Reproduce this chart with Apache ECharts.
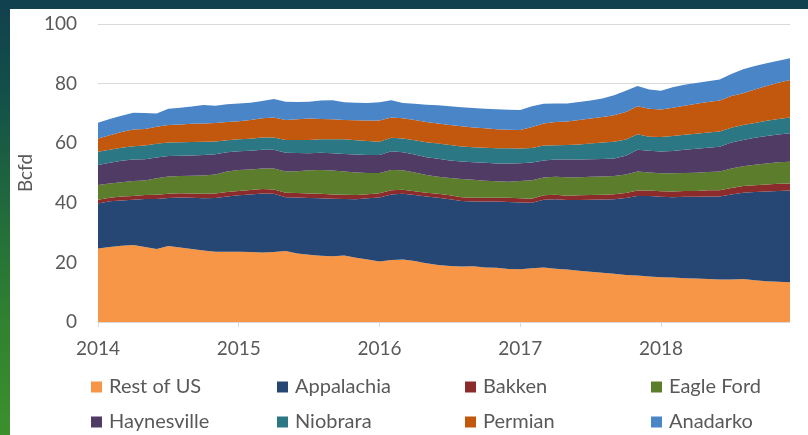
<!DOCTYPE html>
<html>
<head>
<meta charset="utf-8">
<script src="https://cdn.jsdelivr.net/npm/echarts@6/dist/echarts.min.js"></script>
<style>
  html, body { margin: 0; padding: 0; }
  body { width: 808px; height: 435px; position: relative; overflow: hidden;
    background: linear-gradient(to bottom, #11404e 0%, #135049 22%, #236c3b 50%, #318230 75%, #3d8f2d 100%); }
  #panel { position: absolute; left: 10px; top: 9px; right: 0; bottom: 0; background: #ffffff; }
  #chart { position: absolute; left: 0; top: 0; width: 808px; height: 435px; }
</style>
</head>
<body>
<div id="panel"></div>
<div id="chart"></div>
<script>
const months = [
  '2014-01','2014-02','2014-03','2014-04','2014-05','2014-06','2014-07','2014-08','2014-09','2014-10','2014-11','2014-12',
  '2015-01','2015-02','2015-03','2015-04','2015-05','2015-06','2015-07','2015-08','2015-09','2015-10','2015-11','2015-12',
  '2016-01','2016-02','2016-03','2016-04','2016-05','2016-06','2016-07','2016-08','2016-09','2016-10','2016-11','2016-12',
  '2017-01','2017-02','2017-03','2017-04','2017-05','2017-06','2017-07','2017-08','2017-09','2017-10','2017-11','2017-12',
  '2018-01','2018-02','2018-03','2018-04','2018-05','2018-06','2018-07','2018-08','2018-09','2018-10','2018-11','2018-12'
];
const yTicks = [0, 20, 40, 60, 80, 100];

const restOfUS = [24.7,25.2,25.6,25.8,25.2,24.5,25.5,25.0,24.5,24.0,23.6,23.6,
  23.6,23.5,23.3,23.5,23.8,23.0,22.6,22.2,22.1,22.3,21.6,21.0,
  20.3,20.8,21.0,20.5,19.7,19.1,18.8,18.6,18.7,18.3,18.2,17.8,
  17.7,18.0,18.3,17.9,17.6,17.2,16.9,16.5,16.2,15.8,15.6,15.3,
  15.0,14.9,14.7,14.6,14.4,14.3,14.3,14.4,14.0,13.7,13.5,13.3];
const appalachia = [15.1,15.3,15.2,15.2,16.1,16.8,16.1,16.8,17.2,17.5,18.0,18.5,
  18.9,19.3,19.8,19.5,18.1,18.8,19.0,19.3,19.3,19.0,19.6,20.5,
  21.5,22.0,22.0,22.1,22.4,22.6,22.4,22.0,21.7,22.1,22.2,22.5,
  22.4,22.0,22.7,23.3,23.3,23.7,24.1,24.6,25.0,25.8,26.7,27.0,
  27.0,27.0,27.3,27.4,27.7,27.8,28.5,29.0,29.6,30.1,30.5,30.8];
const bakken = [1.2,1.2,1.3,1.3,1.3,1.4,1.4,1.4,1.4,1.5,1.5,1.5,
  1.5,1.5,1.5,1.5,1.5,1.5,1.5,1.5,1.4,1.4,1.4,1.4,
  1.4,1.4,1.4,1.3,1.3,1.3,1.3,1.3,1.3,1.3,1.3,1.4,
  1.4,1.4,1.5,1.5,1.5,1.6,1.6,1.6,1.7,1.7,1.8,1.8,
  1.9,1.9,2.0,2.0,2.1,2.1,2.2,2.2,2.3,2.3,2.4,2.4];
const eagleFord = [5.0,4.8,4.8,5.0,4.9,5.5,5.8,5.8,6.0,6.2,6.4,6.9,
  7.0,6.9,6.9,7.0,7.1,7.3,7.8,8.0,8.0,7.8,7.6,7.1,
  6.8,6.8,6.5,6.3,5.9,5.7,5.8,6.1,6.0,5.7,5.5,5.4,
  5.8,6.2,6.0,6.0,6.2,6.1,6.1,6.1,6.1,6.2,6.4,6.1,
  6.0,6.1,6.0,6.1,6.1,6.3,6.5,6.7,6.9,7.1,7.2,7.3];
const haynesville = [6.7,6.9,7.2,7.2,7.1,7.0,6.9,6.8,6.8,6.8,6.8,6.5,
  6.3,6.3,6.3,6.3,6.3,6.1,5.7,5.8,5.8,5.9,6.0,6.0,
  6.0,6.3,6.1,6.0,6.0,6.1,5.9,5.9,5.9,6.0,6.0,6.1,
  6.0,5.9,5.7,5.8,5.9,5.9,5.9,5.9,5.9,6.3,7.3,7.3,
  7.3,7.5,7.8,8.0,8.2,8.3,8.7,8.8,9.0,9.2,9.3,9.5];
const niobrara = [4.4,4.4,4.4,4.5,4.6,4.6,4.5,4.5,4.5,4.5,4.3,4.0,
  4.0,4.0,4.1,4.1,4.3,4.4,4.5,4.5,4.7,4.9,4.8,4.7,
  4.5,4.5,4.6,4.8,5.0,5.1,5.2,5.0,5.0,5.1,5.1,5.1,
  4.9,4.9,5.0,4.8,4.9,5.1,5.3,5.5,5.6,5.4,5.2,4.7,
  4.9,5.0,5.0,5.1,5.1,5.1,5.0,5.0,5.0,5.1,5.2,5.3];
const permian = [4.5,4.9,5.3,5.6,5.6,5.7,5.9,6.0,6.1,6.1,6.2,6.1,
  6.1,6.3,6.5,6.7,6.7,6.9,7.2,6.8,6.7,6.5,6.7,6.9,
  7.1,6.8,6.8,6.8,6.8,6.7,6.7,6.8,6.7,6.5,6.4,6.2,
  6.2,7.0,7.4,7.8,7.9,8.2,8.4,8.6,8.9,9.3,9.4,9.4,
  9.2,9.5,9.8,10.0,10.2,10.4,10.6,10.7,11.2,11.7,12.2,12.6];
const anadarko = [5.3,5.4,5.4,5.6,5.3,4.5,5.5,5.6,5.8,6.2,5.8,6.0,
  5.9,5.8,5.8,6.2,6.1,5.8,5.6,6.2,6.4,5.9,5.9,5.9,
  6.1,5.8,5.1,5.4,5.8,6.1,6.3,6.4,6.5,6.6,6.7,6.7,
  6.7,7.0,6.6,6.2,6.0,6.0,6.0,6.2,6.7,7.1,6.8,6.4,
  6.3,6.9,7.0,7.0,7.0,7.1,7.4,8.0,7.9,7.6,7.4,7.3];

const seriesNames = ['Rest of US','Appalachia','Bakken','Eagle Ford','Haynesville','Niobrara','Permian','Anadarko'];
const seriesData = [restOfUS, appalachia, bakken, eagleFord, haynesville, niobrara, permian, anadarko];
const colors = ['#f79646','#264773','#8c2b2b','#5c7d2b','#4f3b64','#2c7784','#c2570e','#4a85c8'];

const textColor = '#595959';
const fontFam = 'Lato, "Open Sans", sans-serif';

const legendPos = [
  [91, 377], [277, 377], [465, 377], [651, 377],
  [91, 412], [277, 412], [465, 412], [651, 412]
];

const chart = echarts.init(document.getElementById('chart'), null, { renderer: 'canvas' });
chart.setOption({
  backgroundColor: 'transparent',
  animation: false,
  color: colors,
  grid: { left: 98, right: 18, top: 24, bottom: 113, containLabel: false },
  legend: seriesNames.map((n, i) => ({
    data: [n],
    left: legendPos[i][0],
    top: legendPos[i][1],
    padding: 0,
    icon: 'rect',
    itemWidth: 11,
    itemHeight: 11,
    selectedMode: false,
    textStyle: { color: textColor, fontSize: 20, fontFamily: fontFam, lineHeight: 20, padding: [0, 0, 0, 2] }
  })),
  xAxis: {
    type: 'category',
    data: months,
    boundaryGap: false,
    axisLine: { show: true, lineStyle: { color: '#d9d9d9', width: 1 } },
    axisTick: { show: true, interval: 11, length: 5, lineStyle: { color: '#d9d9d9' } },
    axisLabel: {
      interval: 11, margin: 17, color: textColor, fontSize: 19, fontFamily: fontFam,
      formatter: v => v.slice(0, 4)
    },
    splitLine: { show: false }
  },
  yAxis: {
    type: 'value',
    min: yTicks[0],
    max: yTicks[yTicks.length - 1],
    interval: 20,
    name: 'Bcfd',
    nameLocation: 'middle',
    nameGap: 63,
    nameRotate: 90,
    nameMoveOverlap: false,
    nameTextStyle: { color: textColor, fontSize: 19, fontFamily: fontFam },
    axisLine: { show: false },
    axisTick: { show: false },
    axisLabel: { margin: 21, color: textColor, fontSize: 19, fontFamily: fontFam },
    splitLine: { show: true, lineStyle: { color: '#d9d9d9', width: 1 } }
  },
  series: seriesNames.map((n, i) => ({
    name: n,
    type: 'line',
    stack: 'total',
    data: seriesData[i],
    symbol: 'none',
    smooth: false,
    lineStyle: { width: 0 },
    areaStyle: { color: colors[i], opacity: 1 },
    itemStyle: { color: colors[i] },
    emphasis: { disabled: true }
  }))
});
</script>
</body>
</html>
